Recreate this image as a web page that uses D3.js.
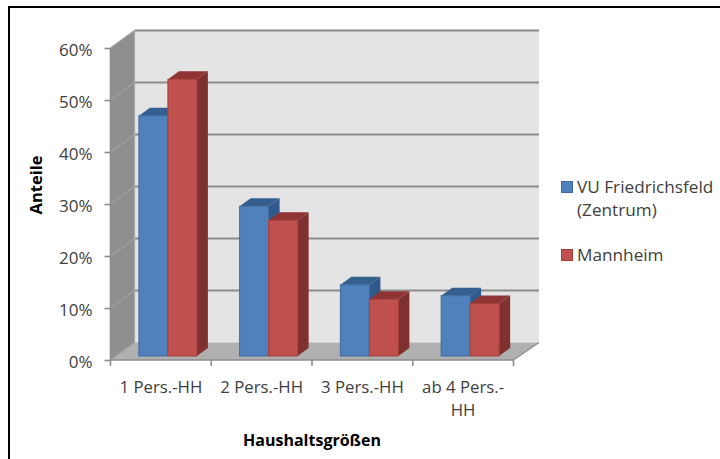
<!DOCTYPE html>
<html><head><meta charset="utf-8">
<script src="https://cdn.jsdelivr.net/npm/d3@7"></script>
<style>html,body{margin:0;padding:0;background:#fff}svg{display:block}text{font-family:"Open Sans",sans-serif}</style>
</head><body><svg id="c" width="720" height="459"></svg>
<script>
const categories = ["1 Pers.-HH","2 Pers.-HH","3 Pers.-HH","ab 4 Pers.-HH"];
const categoryLines = [["1 Pers.-HH"],["2 Pers.-HH"],["3 Pers.-HH"],["ab 4 Pers.-","HH"]];
const seriesNames = ["VU Friedrichsfeld (Zentrum)","Mannheim"];
const vuFriedrichsfeld = [46.2,28.8,13.7,11.6];
const mannheim = [53.2,26.1,10.9,10.1];
const yTicks = [0,10,20,30,40,50,60];
const xTitle = "Haushaltsgrößen", yTitle = "Anteile";
const palette = [{front:"#4f81bd",top:"#355f8f",side:"#2f5a8c",edge:"#3d6a9f"},{front:"#c0504d",top:"#8f3432",side:"#7f3130",edge:"#a5403d"}];

const svg = d3.select("#c");
const x = d3.scaleBand().domain(categories).range([110.5,513.5]);
const y = d3.scaleLinear().domain([0,60]).range([360,48]);
const WALL = {dx:24,dy:-17.5};
const poly = (pts,fill,stroke,sw) => svg.append("polygon").attr("points",pts.map(p=>p.join(",")).join(" ")).attr("fill",fill).attr("stroke",stroke||"none").attr("stroke-width",sw||0);

// outer frame
svg.append("path").attr("d","M9,459V7H720").attr("fill","none").attr("stroke","#000").attr("stroke-width",2);

const L=x.range()[0],R=x.range()[1],T=y(60),B=y(0);
const bx=L+WALL.dx, bxr=R+WALL.dx+1.5, dy=WALL.dy;
// back wall, side wall, floor
poly([[bx,T+dy],[bxr,T+dy],[bxr,B+dy],[bx,B+dy]],"#e4e4e4");
poly([[L,T],[bx,T+dy],[bx,B+dy],[L,B]],"#8f8f8f");
poly([[L,B],[bx,B+dy],[bxr,B+dy],[R,B]],"#b0b0b0");

// gridlines on back and side walls
yTicks.forEach(t=>{
  svg.append("line").attr("x1",bx).attr("x2",bxr).attr("y1",y(t)+dy).attr("y2",y(t)+dy).attr("stroke","#8c8c8c").attr("stroke-width",t===0?0:1.8);
  svg.append("line").attr("x1",L).attr("x2",bx).attr("y1",y(t)).attr("y2",y(t)+dy).attr("stroke","#a0a0a0").attr("stroke-width",1.4);
});
svg.append("line").attr("x1",bx).attr("x2",bx).attr("y1",T+dy).attr("y2",B+dy).attr("stroke","#a8a8a8").attr("stroke-width",1.2);
svg.append("line").attr("x1",R).attr("x2",bxr).attr("y1",B).attr("y2",B+dy).attr("stroke","#8c8c8c").attr("stroke-width",1.2);

// y axis
const yAxis = d3.axisLeft(y).tickValues(yTicks).tickSize(6).tickPadding(12).tickFormat(d=>d+"%");
const gy = svg.append("g").attr("transform",`translate(${L},0)`).call(yAxis);
gy.select(".domain").attr("stroke","#8c8c8c").attr("stroke-width",1.6).attr("d",`M0,${T}V${B}`);
gy.selectAll("line").attr("stroke","#8c8c8c").attr("stroke-width",1.6);
gy.selectAll("text").attr("fill","#404040").attr("dy","0.42em").style("font-size","17px").style("font-family",'"Open Sans",sans-serif');

// x axis
svg.append("line").attr("x1",L).attr("x2",R).attr("y1",B).attr("y2",B).attr("stroke","#8c8c8c").attr("stroke-width",1.6);
const edges = categories.map(c=>x(c)).concat([R]);
svg.selectAll(".xtick").data(edges).enter().append("line").attr("class","xtick")
  .attr("x1",d=>d).attr("x2",d=>d).attr("y1",B).attr("y2",B+6).attr("stroke","#8c8c8c").attr("stroke-width",1.6);
categories.forEach((c,i)=>{
  categoryLines[i].forEach((ln,j)=>{
    svg.append("text").attr("x",x(c)+x.bandwidth()/2).attr("y",393+j*23).attr("text-anchor","middle")
      .attr("fill","#404040").style("font-size","16.8px").text(ln);
  });
});

// bars
const BAR_W=29, BAR_OFF=28.4, BD={dx:11,dy:-8}, BASE=-4;
const xs = d3.scaleBand().domain(seriesNames).range([BAR_OFF,BAR_OFF+2*BAR_W]);
const rows = categories.map((c,i)=>({c,vals:[vuFriedrichsfeld[i],mannheim[i]]}));
rows.forEach(r=>{
  r.vals.forEach((v,s)=>{
    const col=palette[s], x0=x(r.c)+xs(seriesNames[s]), x1=x0+BAR_W, yt=y(v)+BASE, yb=y(0)+BASE;
    poly([[x1,yt],[x1+BD.dx,yt+BD.dy],[x1+BD.dx,yb+BD.dy],[x1,yb]],col.side);
    poly([[x0,yt],[x0+BD.dx,yt+BD.dy],[x1+BD.dx,yt+BD.dy],[x1,yt]],col.top);
    svg.append("rect").attr("x",x0).attr("y",yt).attr("width",BAR_W).attr("height",yb-yt).attr("fill",col.front).attr("stroke",col.edge).attr("stroke-width",1);
  });
});

// titles
svg.append("text").attr("x",312).attr("y",446).attr("text-anchor","middle").attr("font-weight","bold").attr("fill","#000").style("font-size","16px").text(xTitle);
svg.append("text").attr("transform","translate(42,185) rotate(-90)").attr("text-anchor","middle").attr("font-weight","bold").attr("fill","#000").style("font-size","16.5px").text(yTitle);

// legend
const legendLines=[["VU Friedrichsfeld","(Zentrum)"],["Mannheim"]], legendY=[187,255];
seriesNames.forEach((n,i)=>{
  svg.append("rect").attr("x",561.5).attr("y",legendY[i]-5.5).attr("width",11).attr("height",11).attr("fill",palette[i].front).attr("stroke",palette[i].edge);
  legendLines[i].forEach((ln,j)=>svg.append("text").attr("x",577).attr("y",legendY[i]+6+j*23).attr("fill","#404040").style("font-size","17.2px").text(ln));
});
</script></body></html>
